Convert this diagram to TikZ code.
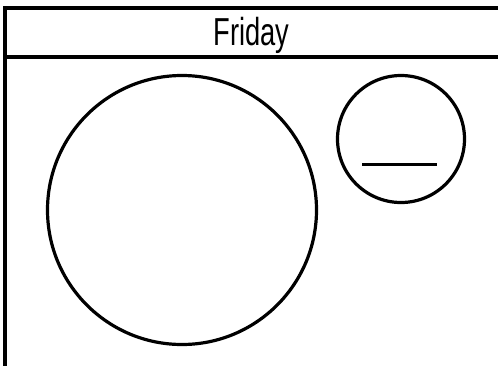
\documentclass[tikz,border=0pt]{standalone}
\usepackage{fontspec}
\newfontfamily\dayfont{Liberation Sans}
\usetikzlibrary{positioning,calc}
\tikzset{
  frameline/.style={draw=black,line width=3.6pt},
  ring/.style={circle,draw=black,line width=3.2pt,inner sep=0pt},
  dash line/.style={draw=black,line width=3.4pt},
}

\begin{document}
\begin{tikzpicture}[x=1pt,y=-1pt]
  \useasboundingbox (0,0) rectangle (498,365);
  % page frame and header
  \coordinate (tl) at (5,8);
  \coordinate (tr) at (500,8);
  \coordinate (hl) at (5,57);
  \coordinate (hr) at (500,57);
  \coordinate (bl) at (5,367);
  \draw[frameline] (tr) -- (tl) -- (bl);
  \draw[frameline] (hl) -- (hr);
  \node[font=\dayfont\fontsize{39}{42}\selectfont,anchor=base,inner sep=0pt]
    (title) at (251.5,45) {\scalebox{0.7}[1]{Friday}};
  % circles
  \node[ring,minimum size=269pt] (big) at (182,210) {};
  \node[ring,minimum size=127pt] (small) at (401,139) {};
  \coordinate (ml) at ($(small.center)+(-39,25.5)$);
  \coordinate (mr) at ($(small.center)+(36,25.5)$);
  \draw[dash line] (ml) -- (mr);
\end{tikzpicture}
\end{document}
